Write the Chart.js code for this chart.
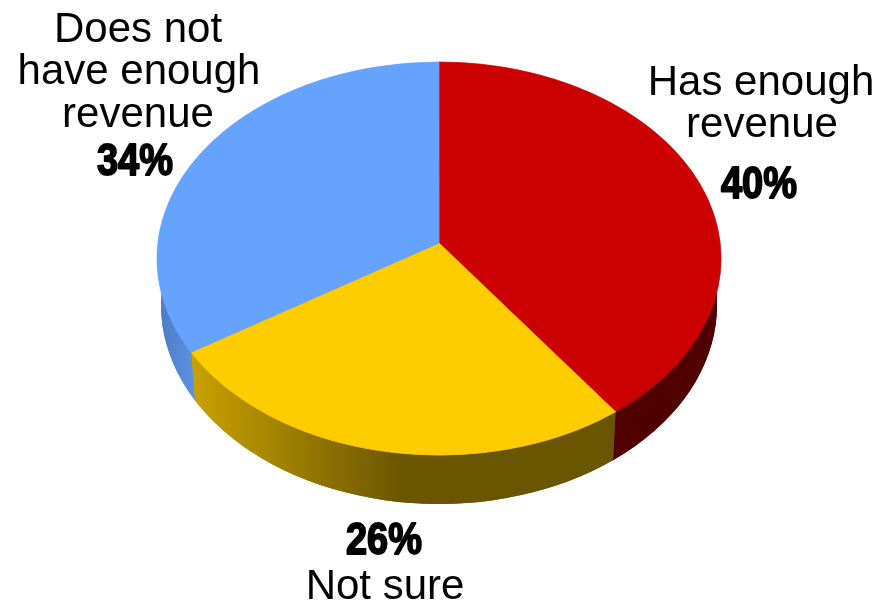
<!DOCTYPE html>
<html>
<head>
<meta charset="utf-8">
<style>
  html, body { margin: 0; padding: 0; background: #fff; }
  canvas { display: block; }
</style>
<script src="https://cdn.jsdelivr.net/npm/chart.js@4/dist/chart.umd.min.js"></script>
</head>
<body>
<canvas id="myChart" width="880" height="603"></canvas>
<script>
const categories = ['Has enough revenue', 'Not sure', 'Does not have enough revenue'];
const values = [40, 26, 34];
const topColors = ['#cc0000', '#ffcc00', '#66a3ff'];
const sideColors = [
    ['#500000', '#500000'],
    ['#c8a000', '#6a5500', '#6a5500'],
    ['#4d7ec6', '#5c92e4']
];

// label lines for each slice, with their place on the page
const labelLines = [
    [['Has enough', 761, 95], ['revenue', 762, 137]],
    [['Not sure', 385, 599]],
    [['Does not', 138, 42], ['have enough', 139, 84], ['revenue', 138, 127]]
];
const percentSpots = [[759, 198], [384, 554], [135, 175]];

// the tilted look of the top face: apex, outer width, top and bottom of the face
const apex = { x: 439, y: 243 };
const faceWidth = 282, faceTop = 62, faceBottom = 455;
const tilt = -(faceBottom + faceTop - 2 * apex.y) / (faceBottom - faceTop);
const faceHeight = (apex.y - faceTop) * (1 + Math.abs(tilt));
const under = { x: 439, y: 305, rx: 278, ry: 199 };
const depth = 48;

const drawPie = {
    id: 'drawPie',
    beforeDatasetsDraw(chart) {
        const ctx = chart.ctx;
        const arcs = chart.getDatasetMeta(0).data;
        const R = arcs[0].outerRadius;
        const a = tilt / R;
        const b = faceHeight / R;
        const k = faceWidth * Math.sqrt(1 - tilt * tilt) / R;

        // where a slice edge meets the rim of the top face
        const rim = (angle) => {
            const X = R * Math.cos(angle), Y = R * Math.sin(angle);
            const d = 1 + a * Y;
            return { x: apex.x + X * k / d, y: apex.y + Y * b / d };
        };
        const lowX = (p) => apex.x + (p.x - apex.x) * under.rx / faceWidth;

        // side wall, one piece per slice; first pass a little wider so no seam shows
        [1, 0].forEach((grow) => {
            arcs.forEach((arc, i) => {
                const hasRight = arc.startAngle <= 0 && arc.endAngle >= 0;
                const hasLeft = arc.startAngle <= Math.PI && arc.endAngle >= Math.PI;
                const l = rim(arc.endAngle), r = rim(arc.startAngle);
                const left = hasLeft ? under.x - under.rx : lowX(l);
                const right = hasRight ? under.x + under.rx : lowX(r);
                const grad = ctx.createLinearGradient(left, 0, right, 0);
                sideColors[i].forEach((c, j, list) => grad.addColorStop(j / (list.length - 1), c));
                ctx.save();
                ctx.beginPath();
                if (hasLeft) {
                    ctx.moveTo(0, 0);
                    ctx.lineTo(0, 603);
                } else {
                    ctx.moveTo(l.x - grow, 0);
                    ctx.lineTo(l.x - grow, l.y);
                    ctx.lineTo(lowX(l) - grow, l.y + depth);
                    ctx.lineTo(lowX(l) - grow, 603);
                }
                if (hasRight) {
                    ctx.lineTo(880, 603);
                    ctx.lineTo(880, 0);
                } else {
                    ctx.lineTo(lowX(r) + grow, 603);
                    ctx.lineTo(lowX(r) + grow, r.y + depth);
                    ctx.lineTo(r.x + grow, r.y);
                    ctx.lineTo(r.x + grow, 0);
                }
                ctx.closePath();
                ctx.clip();
                ctx.fillStyle = grad;
                ctx.beginPath();
                ctx.ellipse(under.x, under.y, under.rx, under.ry, 0, 0, Math.PI * 2);
                ctx.fill();
                ctx.restore();
            });
        });

        // top face, drawn row by row so the apex sits off centre
        for (let y = faceTop - 1; y <= faceBottom + 1; y++) {
            const v = y + 0.5 - apex.y;
            const Y = v / (b - a * v);
            const d = 1 + a * Y;
            const sx = k / d;
            const sy = b / (d * d);
            ctx.save();
            ctx.beginPath();
            ctx.rect(0, y, 880, 1);
            ctx.clip();
            arcs.forEach((arc) => {
                ctx.save();
                ctx.setTransform(sx, 0, 0, sy, apex.x - arc.x * sx, y + 0.5 - (arc.y + Y) * sy);
                arc.draw(ctx);
                ctx.restore();
            });
            ctx.restore();
        }
        return false;
    },
    afterDraw(chart) {
        const ctx = chart.ctx;
        ctx.save();
        ctx.textAlign = 'center';
        ctx.textBaseline = 'alphabetic';
        ctx.fillStyle = '#000';
        ctx.strokeStyle = '#000';
        ctx.font = '42px "Liberation Sans", Arial, sans-serif';
        labelLines.forEach((lines) => {
            lines.forEach(([text, x, y]) => ctx.fillText(text, x, y));
        });
        ctx.font = 'bold 38px "Liberation Sans", Arial, sans-serif';
        ctx.lineWidth = 1.6;
        ctx.lineJoin = 'round';
        percentSpots.forEach(([x, y], i) => {
            ctx.save();
            ctx.translate(x, y);
            ctx.scale(1, 1.15);
            ctx.fillText(values[i] + '%', 0, 0);
            ctx.strokeText(values[i] + '%', 0, 0);
            ctx.restore();
        });
        ctx.restore();
    }
};

new Chart(document.getElementById('myChart').getContext('2d'), {
    type: 'pie',
    data: {
        labels: categories,
        datasets: [{
            data: values,
            backgroundColor: topColors,
            borderColor: topColors,
            borderWidth: 1
        }]
    },
    options: {
        responsive: false,
        animation: false,
        plugins: {
            legend: { display: false },
            tooltip: { enabled: false }
        }
    },
    plugins: [drawPie]
});
</script>
</body>
</html>
